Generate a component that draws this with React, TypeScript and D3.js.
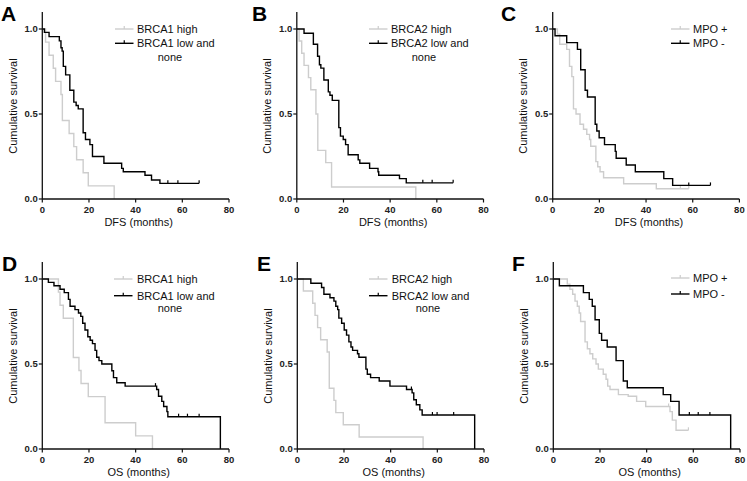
import React from "react";
import * as d3 from "d3";

const xTicks = [0, 20, 40, 60, 80];
const yTicks = [0, 0.5, 1.0];
const yTickLabels = ["0.0", "0.5", "1.0"];

// Panel A (DFS, BRCA1)
const aHigh: [number, number][] = [[0,1],[1.4,0.923],[2.9,0.846],[4.7,0.769],[5.7,0.692],[8,0.615],[8.6,0.462],[11.5,0.385],[13.5,0.308],[14.7,0.231],[17.5,0.154],[19.7,0.077],[30.8,0]];
const aLow: [number, number][] = [[0,1],[0.9,0.98],[2.9,0.955],[7.3,0.93],[8,0.89],[8.5,0.87],[9,0.78],[10,0.73],[11.8,0.64],[13.5,0.57],[14.5,0.55],[15.4,0.53],[17.5,0.39],[18.5,0.35],[20.4,0.32],[21.5,0.25],[26.4,0.21],[34,0.18],[34.7,0.16],[44,0.14],[46.8,0.112],[50.4,0.092],[67.2,0.092]];
const aLowCensor = [53.8, 58.1, 67.2];

// Panel B (DFS, BRCA2)
const bHigh: [number, number][] = [[0,1],[1,0.929],[2.1,0.857],[3.1,0.786],[5,0.714],[6,0.643],[8.2,0.5],[9,0.286],[12.4,0.214],[14.9,0.071],[51,0]];
const bLow: [number, number][] = [[0,1],[3.1,0.975],[7.1,0.91],[8.9,0.84],[9.7,0.79],[10.3,0.77],[11.6,0.70],[13.5,0.63],[14.2,0.61],[15.2,0.58],[18,0.42],[18.7,0.37],[19.9,0.35],[20.9,0.32],[22,0.26],[26.3,0.23],[27,0.21],[31.2,0.18],[34.8,0.16],[35.1,0.14],[44,0.12],[46.9,0.095],[67,0.095]];
const bLowCensor = [54, 58, 67];

// Panel C (DFS, MPO)
const cPlus: [number, number][] = [[0,1],[2,0.97],[3,0.91],[6,0.88],[7.2,0.78],[8.2,0.72],[8.9,0.53],[10,0.50],[11.7,0.44],[13.2,0.41],[14.6,0.38],[15.8,0.35],[16.3,0.31],[18.5,0.22],[19.3,0.19],[20.3,0.16],[21.8,0.125],[30.4,0.09],[44.4,0.06],[58.3,0.06]];
const cPlusCensor = [54.7, 58.3];
const cMinus: [number, number][] = [[0,1],[1,0.96],[6,0.92],[10.6,0.88],[12,0.76],[13.9,0.64],[14.9,0.60],[18.2,0.44],[18.9,0.40],[19.9,0.36],[22.2,0.32],[26.8,0.28],[27.2,0.24],[31.5,0.20],[35.4,0.16],[47.6,0.12],[51.4,0.08],[67.6,0.08]];
const cMinusCensor = [58.3, 67.6];

// Panel D (OS, BRCA1)
const dHigh: [number, number][] = [[0,1],[6.9,0.923],[7.6,0.846],[9,0.769],[13.3,0.538],[15.7,0.462],[16.6,0.385],[19.7,0.308],[26.9,0.154],[40,0.077],[47.2,0]];
const dLow: [number, number][] = [[0,1],[2.6,0.98],[5,0.96],[7.6,0.94],[9.4,0.92],[11.2,0.88],[11.9,0.84],[14,0.82],[15.5,0.80],[16.5,0.78],[17.3,0.74],[18.3,0.70],[19.5,0.66],[20.5,0.64],[21.5,0.62],[22.6,0.58],[23.3,0.54],[24.3,0.52],[25.5,0.50],[29.8,0.46],[30.5,0.42],[31.9,0.39],[35.5,0.37],[49,0.35],[49.8,0.31],[51.2,0.28],[52,0.25],[53.4,0.22],[53.8,0.19],[76.3,0]];
const dLowCensor = [48.5, 58.4, 62.2, 67.2];

// Panel E (OS, BRCA2)
const eHigh: [number, number][] = [[0,1],[2.6,0.929],[6.6,0.857],[7.6,0.786],[8.7,0.714],[10,0.643],[12.8,0.571],[13.7,0.357],[15.7,0.286],[16.5,0.214],[19.7,0.143],[26.5,0.071],[53.9,0]];
const eLow: [number, number][] = [[0,1],[5.8,0.975],[10.4,0.95],[11.4,0.91],[14,0.89],[15.7,0.87],[16.5,0.84],[17.3,0.82],[17.8,0.77],[19,0.74],[20.1,0.70],[21.1,0.67],[22.1,0.63],[23,0.60],[23.7,0.58],[25.8,0.56],[26.4,0.54],[29.4,0.47],[30,0.44],[31.4,0.42],[35.1,0.40],[39.7,0.37],[46.8,0.35],[49.2,0.33],[49.9,0.29],[51,0.26],[52.5,0.23],[53.5,0.20],[76,0]];
const eLowCensor = [48.9, 57.9, 59.9, 67];

// Panel F (OS, MPO)
const fPlus: [number, number][] = [[0,1],[6,0.97],[7.1,0.94],[8.3,0.91],[9.3,0.87],[10.3,0.84],[11.1,0.80],[11.7,0.75],[13.6,0.63],[14.6,0.59],[15.7,0.56],[16.9,0.53],[18.3,0.50],[19.3,0.47],[21.4,0.44],[22.6,0.41],[23.3,0.37],[24.3,0.35],[27.9,0.32],[32.1,0.31],[35.7,0.28],[39.6,0.25],[50,0.22],[51,0.17],[52.6,0.11],[57.9,0.11]];
const fPlusCensor = [49.4, 57.9];
const fMinus: [number, number][] = [[0,1],[2.6,0.96],[12.9,0.92],[15.4,0.88],[16.7,0.84],[17.9,0.76],[19.7,0.68],[20.7,0.64],[23.1,0.60],[26.9,0.52],[30,0.40],[31.7,0.36],[47.1,0.32],[50.3,0.28],[53.9,0.20],[76,0]];
const fMinusCensor = [58.3, 62.1, 67.1];

const GRAY = "#cdcdcd";
const FONT = "'Liberation Sans', Arial, Helvetica, sans-serif";

type Series = { data: [number, number][]; censor: number[]; color: string };
type PanelCfg = {
  letter: string; lx: number; ly: number;
  left: number; bottom: number; xTitle: string;
  series: Series[];
  legend: { labels: string[]; lineX: number; textX: number; ys: number[]; extra?: { text: string; x: number; y: number } };
};

const panels: PanelCfg[] = [
  { letter: "A", lx: 1, ly: 21, left: 42.3, bottom: 199, xTitle: "DFS (months)",
    series: [{ data: aHigh, censor: [], color: GRAY }, { data: aLow, censor: aLowCensor, color: "#000" }],
    legend: { labels: ["BRCA1 high", "BRCA1 low and"], lineX: 115, textX: 137, ys: [29, 43.3], extra: { text: "none", x: 170, y: 57.3 } } },
  { letter: "B", lx: 252, ly: 21, left: 296.8, bottom: 199, xTitle: "DFS (months)",
    series: [{ data: bHigh, censor: [], color: GRAY }, { data: bLow, censor: bLowCensor, color: "#000" }],
    legend: { labels: ["BRCA2 high", "BRCA2 low and"], lineX: 369, textX: 391, ys: [29, 43.3], extra: { text: "none", x: 424, y: 57.3 } } },
  { letter: "C", lx: 501, ly: 21, left: 552.7, bottom: 199, xTitle: "DFS (months)",
    series: [{ data: cPlus, censor: cPlusCensor, color: GRAY }, { data: cMinus, censor: cMinusCensor, color: "#000" }],
    legend: { labels: ["MPO +", "MPO -"], lineX: 671, textX: 693, ys: [29, 43.3] } },
  { letter: "D", lx: 2, ly: 271, left: 42.3, bottom: 449, xTitle: "OS (months)",
    series: [{ data: dHigh, censor: [], color: GRAY }, { data: dLow, censor: dLowCensor, color: "#000" }],
    legend: { labels: ["BRCA1 high", "BRCA1 low and"], lineX: 114, textX: 137, ys: [279, 295.7], extra: { text: "none", x: 170, y: 307.7 } } },
  { letter: "E", lx: 257, ly: 271, left: 297.3, bottom: 449, xTitle: "OS (months)",
    series: [{ data: eHigh, censor: [], color: GRAY }, { data: eLow, censor: eLowCensor, color: "#000" }],
    legend: { labels: ["BRCA2 high", "BRCA2 low and"], lineX: 369, textX: 391.7, ys: [279, 295.7], extra: { text: "none", x: 428, y: 307.7 } } },
  { letter: "F", lx: 512, ly: 271, left: 553.3, bottom: 449, xTitle: "OS (months)",
    series: [{ data: fPlus, censor: fPlusCensor, color: GRAY }, { data: fMinus, censor: fMinusCensor, color: "#000" }],
    legend: { labels: ["MPO +", "MPO -"], lineX: 671, textX: 693, ys: [278, 294] } },
];

function stepValueAt(data: [number, number][], t: number): number {
  let v = data[0][1];
  for (const [tt, s] of data) { if (tt <= t) v = s; else break; }
  return v;
}

function Panel({ cfg }: { cfg: PanelCfg }) {
  const W = 186.7, H = 170;
  const x = d3.scaleLinear().domain([0, 80]).range([cfg.left, cfg.left + W]);
  const y = d3.scaleLinear().domain([0, 1]).range([cfg.bottom, cfg.bottom - H]);
  const line = d3.line<[number, number]>().x(d => x(d[0])).y(d => y(d[1])).curve(d3.curveStepAfter);
  const axisColor = "#111";
  return (
    <g>
      <text x={cfg.lx} y={cfg.ly} fontFamily={FONT} fontWeight="bold" fontSize={21}>{cfg.letter}</text>
      {/* curves */}
      {cfg.series.map((s, i) => (
        <g key={i}>
          <path d={line(s.data) || ""} fill="none" stroke={s.color} strokeWidth={1.4} />
          {s.censor.map((c, j) => (
            <line key={j} x1={x(c)} x2={x(c)} y1={y(stepValueAt(s.data, c))} y2={y(stepValueAt(s.data, c)) - 3} stroke={s.color} strokeWidth={1.2} />
          ))}
        </g>
      ))}
      {/* axes */}
      <line x1={cfg.left} x2={cfg.left} y1={cfg.bottom} y2={y(1.1)} stroke={axisColor} strokeWidth={1.3} />
      <line x1={cfg.left} x2={cfg.left + W} y1={cfg.bottom} y2={cfg.bottom} stroke={axisColor} strokeWidth={1.3} />
      {xTicks.map(t => (
        <g key={t}>
          <line x1={x(t)} x2={x(t)} y1={cfg.bottom} y2={cfg.bottom + 3.5} stroke={axisColor} strokeWidth={1.2} />
          <text x={x(t)} y={cfg.bottom + 13.5} textAnchor="middle" fontFamily={FONT} fontWeight="bold" fontSize={9.5} fill="#222">{t}</text>
        </g>
      ))}
      {yTicks.map((t, i) => (
        <g key={t}>
          <line x1={cfg.left - 3.5} x2={cfg.left} y1={y(t)} y2={y(t)} stroke={axisColor} strokeWidth={1.2} />
          <text x={cfg.left - 4.5} y={y(t) + 3.4} textAnchor="end" fontFamily={FONT} fontWeight="bold" fontSize={9.5} fill="#222">{yTickLabels[i]}</text>
        </g>
      ))}
      <text x={cfg.left + W / 2 + 3} y={cfg.bottom + 26.5} textAnchor="middle" fontFamily={FONT} fontSize={11} fill="#111">{cfg.xTitle}</text>
      <text transform={`translate(${cfg.left - 25.5},${cfg.bottom - H / 2 - 8}) rotate(-90)`} textAnchor="middle" fontFamily={FONT} fontSize={11} fill="#111">Cumulative survival</text>
      {/* legend */}
      {cfg.legend.labels.map((lab, i) => {
        const col = cfg.series[i].color;
        const ly = cfg.legend.ys[i];
        const lx0 = cfg.legend.lineX, lx1 = lx0 + 18.5;
        return (
          <g key={lab}>
            <line x1={lx0} x2={lx1} y1={ly} y2={ly} stroke={col} strokeWidth={1.4} />
            <line x1={(lx0 + lx1) / 2} x2={(lx0 + lx1) / 2} y1={ly} y2={ly - 3} stroke={col} strokeWidth={1.2} />
            <text x={cfg.legend.textX} y={ly + 4} fontFamily={FONT} fontSize={11} fill="#111">{lab}</text>
          </g>
        );
      })}
      {cfg.legend.extra && (
        <text x={cfg.legend.extra.x} y={cfg.legend.extra.y + 4} textAnchor="middle" fontFamily={FONT} fontSize={11} fill="#111">{cfg.legend.extra.text}</text>
      )}
    </g>
  );
}

export default function App() {
  return (
    <svg width={747} height={481} style={{ position: "absolute", left: 0, top: 0, background: "#fff" }}>
      <rect width={747} height={481} fill="#fff" />
      {panels.map(p => <Panel key={p.letter} cfg={p} />)}
    </svg>
  );
}
